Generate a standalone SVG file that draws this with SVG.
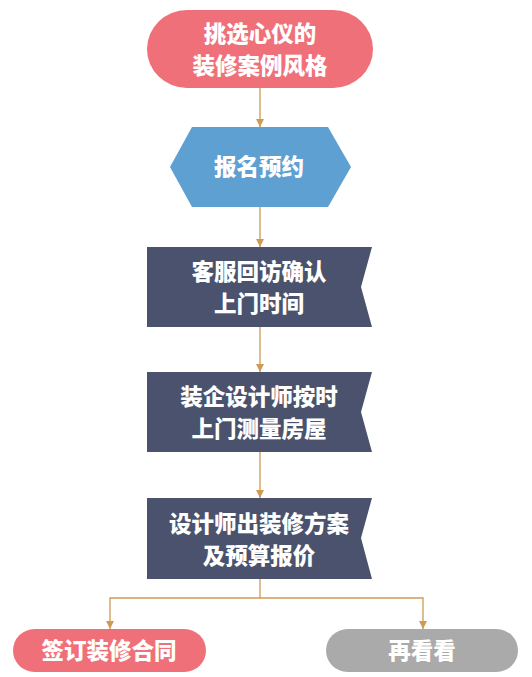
<svg xmlns="http://www.w3.org/2000/svg" width="532" height="677" viewBox="0 0 532 677">
<defs>
<style>
.t{font-family:"Noto Sans CJK SC","Noto Sans",sans-serif;font-weight:900;font-size:22.5px;fill:#ffffff;text-anchor:middle;}
.c{fill:none;stroke:#d09a55;stroke-width:1.3;}
</style>
<marker id="ah" viewBox="0 0 10 10" refX="10" refY="5" markerWidth="8" markerHeight="8" markerUnits="userSpaceOnUse" orient="auto">
<path d="M0,0 L10,5 L0,10 z" fill="#d09a55"/>
</marker>
</defs>
<rect width="532" height="677" fill="#ffffff"/>
<g id="connectors">
<line class="c" x1="260" y1="88" x2="260" y2="127" marker-end="url(#ah)"/>
<line class="c" x1="260" y1="207" x2="260" y2="247" marker-end="url(#ah)"/>
<line class="c" x1="260" y1="327" x2="260" y2="372" marker-end="url(#ah)"/>
<line class="c" x1="260" y1="452" x2="260" y2="498" marker-end="url(#ah)"/>
<polyline class="c" points="260,579 260,598 110,598 110,629" marker-end="url(#ah)"/>
<polyline class="c" points="260,598 423,598 423,629" marker-end="url(#ah)"/>
</g>
<g id="n1">
<rect x="147" y="10" width="226" height="78" rx="40" ry="39" fill="#f07079"/>
<text class="t" x="260" y="42">挑选心仪的</text>
<text class="t" x="260" y="74">装修案例风格</text>
</g>
<g id="n2">
<polygon points="170,167 192,127 328,127 351,167 328,207 192,207" fill="#5fa0d2"/>
<text class="t" x="259" y="175">报名预约</text>
</g>
<g id="n3">
<polygon points="147,247 372,247 361,287 372,327 147,327" fill="#4a526d"/>
<text class="t" x="259" y="280">客服回访确认</text>
<text class="t" x="259" y="312">上门时间</text>
</g>
<g id="n4">
<polygon points="147,372 372,372 361,412 372,452 147,452" fill="#4a526d"/>
<text class="t" x="259" y="405">装企设计师按时</text>
<text class="t" x="259" y="437">上门测量房屋</text>
</g>
<g id="n5">
<polygon points="147,498 372,498 361,538 372,579 147,579" fill="#4a526d"/>
<text class="t" x="259" y="532">设计师出装修方案</text>
<text class="t" x="259" y="564">及预算报价</text>
</g>
<g id="n6">
<rect x="13" y="629" width="193" height="43" rx="21.5" fill="#f07079"/>
<text class="t" x="109" y="659">签订装修合同</text>
</g>
<g id="n7">
<rect x="326" y="629" width="192" height="43" rx="21.5" fill="#aaaaaa"/>
<text class="t" x="422" y="659">再看看</text>
</g>
</svg>
